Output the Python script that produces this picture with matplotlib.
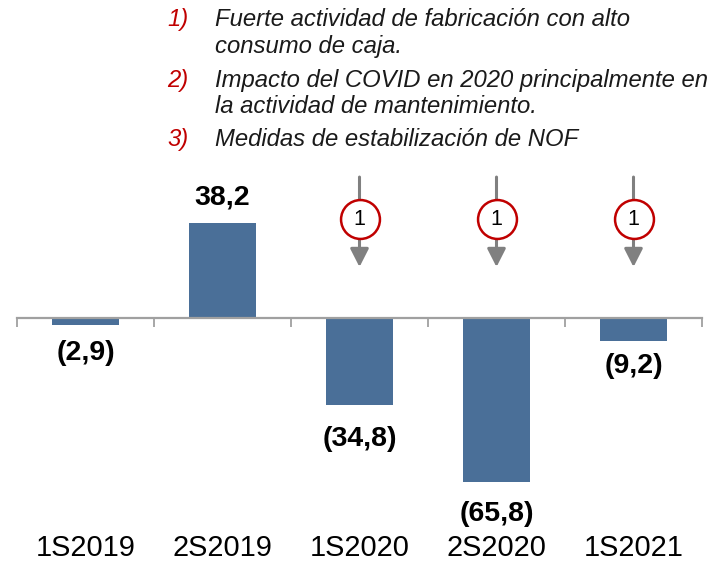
import matplotlib.pyplot as plt

# Data
categories = ['1S2019', '2S2019', '1S2020', '2S2020', '1S2021']
values = [-2.9, 38.2, -34.8, -65.8, -9.2]
labels = ['(2,9)', '38,2', '(34,8)', '(65,8)', '(9,2)']
marked = [2, 3, 4]  # categories with the "1" marker
notes = ['Fuerte actividad de fabricación con alto\nconsumo de caja.',
         'Impacto del COVID en 2020 principalmente en\nla actividad de mantenimiento.',
         'Medidas de estabilización de NOF']

# label gap from bar end (points)
label_pad = [10.5, 13, 15, 14, 9]

plt.rcParams['font.family'] = ['Liberation Sans', 'DejaVu Sans']

bar_color = '#4A6F98'
red = '#C00000'
gray = '#808080'

fig = plt.figure(figsize=(7.16, 5.62), dpi=100)
ax = fig.add_axes([17 / 716, 0.1151, 685 / 716, 0.5849])

x = list(range(len(categories)))
ax.bar(x, values, width=0.49, color=bar_color, zorder=2)

ax.set_xlim(-0.5, len(categories) - 0.5)
ax.set_ylim(-72, 60)

# value labels
for i, (v, lab) in enumerate(zip(values, labels)):
    if v >= 0:
        ax.annotate(lab, (i, v), xytext=(0, label_pad[i]), textcoords='offset points',
                    ha='center', va='baseline', fontsize=20.5, fontweight='bold')
    else:
        ax.annotate(lab, (i, v), xytext=(0, -label_pad[i]), textcoords='offset points',
                    ha='center', va='top', fontsize=20.5, fontweight='bold')

# category labels
for i, cat in enumerate(categories):
    ax.text(i, -0.178, cat, transform=ax.get_xaxis_transform(),
            ha='center', va='baseline', fontsize=20.8)

# arrows with numbered circles
for i in marked:
    ax.annotate('', xy=(i, 20.5), xytext=(i, 56.6),
                arrowprops=dict(arrowstyle='-|>,head_length=0.55,head_width=0.28',
                                color=gray, lw=2.2, mutation_scale=20,
                                shrinkA=0, shrinkB=0))
    ax.plot(i, 39.8, 'o', markersize=28, markerfacecolor='white',
            markeredgecolor=red, markeredgewidth=1.8, zorder=4)
    ax.text(i, 39.6, '1', ha='center', va='center', fontsize=15.5, zorder=5)

# axis styling
for s in ['top', 'right', 'left']:
    ax.spines[s].set_visible(False)
ax.spines['bottom'].set_position(('data', 0))
ax.spines['bottom'].set_color('#A0A0A0')
ax.spines['bottom'].set_linewidth(1.6)
ax.set_yticks([])
ax.set_xticks([i - 0.5 for i in range(len(categories) + 1)])
ax.set_xticklabels([])
ax.tick_params(axis='x', direction='out', length=6.5, width=1.3, color='#A0A0A0')

# notes at the top
note_y = [0.985, 0.878, 0.772]
for k, (note, ny) in enumerate(zip(notes, note_y)):
    fig.text(167 / 716, ny, f'{k + 1})', color=red, style='italic', fontsize=17.2,
             va='top', ha='left')
    fig.text(215 / 716, ny, note, color='#1A1A1A', style='italic', fontsize=17.2,
             va='top', ha='left', linespacing=1.2)

plt.savefig('out.png', dpi=100)
